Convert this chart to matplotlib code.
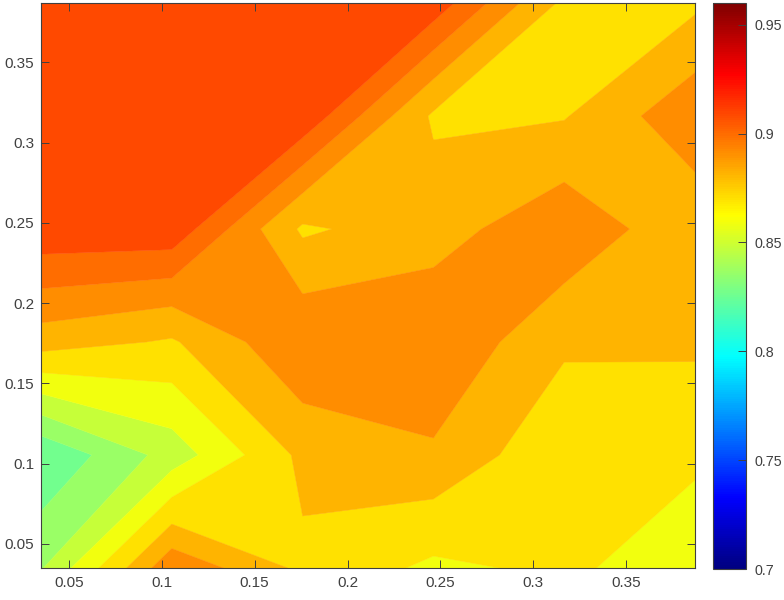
import numpy as np
import matplotlib
matplotlib.use('Agg')
import matplotlib.pyplot as plt
from matplotlib.cm import ScalarMappable
from matplotlib.colors import LinearSegmentedColormap, Normalize

plt.rcParams['font.family'] = ['Liberation Sans', 'DejaVu Sans']

# grid of the sweep, same for both axes
grid = [0.035, 0.1054, 0.1758, 0.2462, 0.3166, 0.387]

row_0 = [0.8470, 0.8990, 0.8787, 0.8677, 0.8723, 0.8630]
row_1 = [0.8270, 0.8527, 0.8837, 0.8895, 0.8727, 0.8720]
row_2 = [0.8860, 0.8798, 0.8996, 0.8995, 0.8828, 0.8829]
row_3 = [0.9156, 0.9155, 0.8794, 0.8866, 0.8986, 0.8834]
row_4 = [0.9160, 0.9170, 0.9160, 0.8795, 0.8803, 0.8985]
row_5 = [0.9170, 0.9180, 0.9170, 0.9147, 0.8788, 0.8790]

levels = [0.826, 0.837, 0.848, 0.859, 0.870, 0.881, 0.891, 0.900, 0.909, 0.92]
xticks = [0.05, 0.1, 0.15, 0.2, 0.25, 0.3, 0.35]
yticks = [0.05, 0.1, 0.15, 0.2, 0.25, 0.3, 0.35]
tick_labels = ['0.05', '0.1', '0.15', '0.2', '0.25', '0.3', '0.35']
cbar_ticks = [0.7, 0.75, 0.8, 0.85, 0.9, 0.95]
cbar_labels = ['0.7', '0.75', '0.8', '0.85', '0.9', '0.95']

W, H = 784, 600
dark = '#404040'

Z = np.array([row_0, row_1, row_2, row_3, row_4, row_5])
X, Y = np.meshgrid(grid, grid)

# matplotlib's jet is a bit off from matlab's, so build the matlab one
matlab_jet = LinearSegmentedColormap('matlab_jet', {
    'red': [(0, 0, 0), (0.375, 0, 0), (0.625, 1, 1), (0.875, 1, 1), (1, 0.5, 0.5)],
    'green': [(0, 0, 0), (0.125, 0, 0), (0.375, 1, 1), (0.625, 1, 1), (0.875, 0, 0), (1, 0, 0)],
    'blue': [(0, 0.5, 0.5), (0.125, 1, 1), (0.375, 1, 1), (0.625, 0, 0), (1, 0, 0)],
}, N=256)

norm = Normalize(0.7, 0.96)
# matlab fills each band with the colour of its lower level
band_colors = [matlab_jet(norm(v)) for v in levels[:-1]]

fig = plt.figure(figsize=(W / 100, H / 100), dpi=100)
ax = fig.add_axes([41 / W, 1 - 568 / H, (695 - 41) / W, (568 - 3) / H])
cs = ax.contourf(X, Y, Z, levels=levels, colors=band_colors, antialiased=True)
cs.set_edgecolor('face')
cs.set_linewidth(0.3)

ax.set_xlim(grid[0], grid[-1])
ax.set_ylim(grid[0], grid[-1])
ax.set_xticks(xticks)
ax.set_xticklabels(tick_labels)
ax.set_yticks(yticks)
ax.set_yticklabels(tick_labels)
ax.tick_params(direction='in', length=6, width=0.7, color=dark, labelcolor=dark,
               labelsize=11, top=True, right=True, pad=6)
ax.tick_params(axis='y', pad=5)
for s in ax.spines.values():
    s.set_linewidth(0.8)
    s.set_color(dark)

cax = fig.add_axes([713 / W, 1 - 569 / H, (746 - 713) / W, (569 - 3) / H])
cb = fig.colorbar(ScalarMappable(norm=norm, cmap=matlab_jet), cax=cax)
cb.set_ticks(cbar_ticks)
cb.set_ticklabels(cbar_labels)
cb.ax.tick_params(direction='in', length=6, width=0.7, color=dark, labelcolor=dark,
                  labelsize=10.3, pad=6)
cb.outline.set_linewidth(0.8)
cb.outline.set_edgecolor(dark)

fig.savefig('out.png', dpi=100)
